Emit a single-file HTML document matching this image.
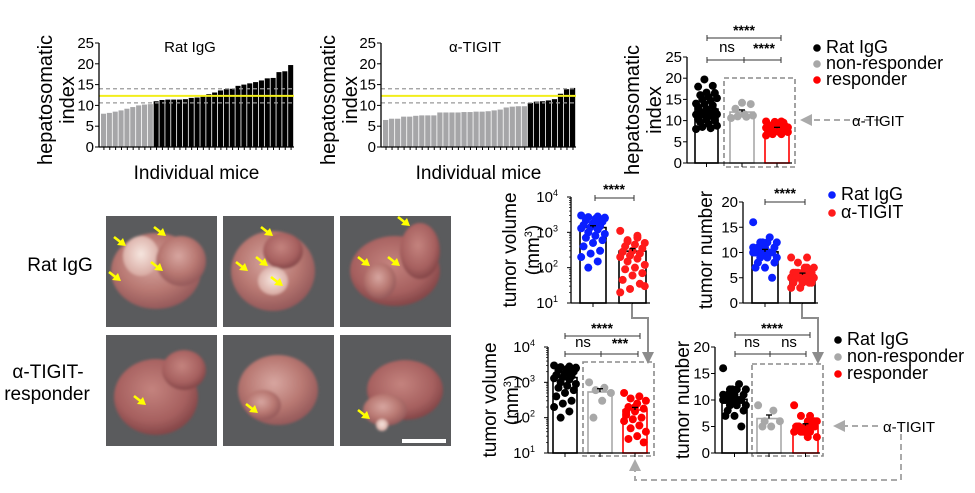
<!DOCTYPE html>
<html><head><meta charset="utf-8"><style>
html,body{margin:0;padding:0;background:#fff}
svg{display:block;font-family:"Liberation Sans",Arial,sans-serif}
</style></head><body>
<svg id="fig" width="975" height="493" viewBox="0 0 975 493" xmlns="http://www.w3.org/2000/svg">
<defs>
<radialGradient id="liver" cx="45%" cy="40%" r="60%"><stop offset="0" stop-color="#d7a6a0"/><stop offset="0.6" stop-color="#b87872"/><stop offset="1" stop-color="#95595a"/></radialGradient>
<radialGradient id="liver2" cx="45%" cy="40%" r="60%"><stop offset="0" stop-color="#c4837e"/><stop offset="0.7" stop-color="#a6605f"/><stop offset="1" stop-color="#844648"/></radialGradient>
<radialGradient id="tumor" cx="50%" cy="45%" r="55%"><stop offset="0" stop-color="#f6e6df"/><stop offset="1" stop-color="#d8aaa2"/></radialGradient>
<filter id="soft"><feGaussianBlur stdDeviation="1.2"/></filter>
<marker id="ah" markerWidth="6" markerHeight="6" refX="3" refY="3" orient="auto"><path d="M0,0 L6,3 L0,6 z" fill="#8c8c8c"/></marker>
<marker id="ah2" markerWidth="6" markerHeight="6" refX="3" refY="3" orient="auto"><path d="M0,0 L6,3 L0,6 z" fill="#aaaaaa"/></marker>
</defs>
<g id="photos"></g>
<g id="charts"></g>
</svg>
<script>
// ---------- DATA ----------
const ratIgGHI = [8.0,8.2,8.5,8.8,9.2,9.6,10.0,10.2,10.3,11.0,11.3,11.4,11.4,11.4,11.5,11.8,11.9,12.2,12.7,13.1,13.6,13.9,14.0,14.7,15.0,15.3,15.6,16.0,16.5,16.6,18.0,18.2,19.7];
const ratIgGResponder = [1,1,1,1,1,1,1,1,1,0,0,0,0,0,0,0,0,0,0,0,0,0,0,0,0,0,0,0,0,0,0,0,0];
const tigitHI = [6.5,6.8,6.8,7.3,7.3,7.5,7.6,7.6,7.6,8.3,8.3,8.3,8.3,8.4,8.4,8.5,8.5,8.6,8.8,9.0,9.5,9.7,9.8,9.8,10.6,10.9,11.0,11.2,11.5,12.8,13.9,14.2];
const tigitResponder = [1,1,1,1,1,1,1,1,1,1,1,1,1,1,1,1,1,1,1,1,1,1,1,1,0,0,0,0,0,0,0,0];
const hiMean = 12.3, hiUpper = 14.0, hiLower = 10.6;
const hiTicks = [0,5,10,15,20,25];
const hiNonResp = [10.6,10.9,11.0,11.2,11.5,12.8,13.9,14.2];
const hiResp = [6.5,6.8,6.8,7.3,7.3,7.5,7.6,7.6,7.6,8.3,8.3,8.3,8.3,8.4,8.4,8.5,8.5,8.6,8.8,9.0,9.5,9.7,9.8,9.8];
const volRat = [3000,2800,2700,2500,2400,2200,2000,1800,1600,1500,1400,1300,1200,1000,900,800,700,600,500,400,300,250,200,150,100,2600,1900];
const volTigit = [1100,700,600,500,450,400,350,300,280,250,220,200,180,150,120,100,90,70,60,45,35,25,20,800,550,30];
const volNonResp = [1000,700,600,500,300,100];
const volResp = [500,400,350,300,250,200,180,150,120,100,90,80,60,50,40,30,25,20,200,150];
const numRat = [16,13,12,12,12,11,11,11,10,10,10,10,10,9,9,9,8,8,7,7,5,12,11];
const numTigit = [9,9,8,7,7,6,6,6,6,6,5,5,5,5,5,5,5,4,4,4,4,3,3,7,6];
const numNonResp = [9,8,6,6,5,5];
const numResp = [9,7,7,6,6,5,5,5,5,5,4,4,4,4,3,3,5,6];
const numTicks = [0,5,10,15,20];
const volTickExp = [1,2,3,4];

// ---------- HELPERS ----------
const NS='http://www.w3.org/2000/svg';
const root=document.getElementById('charts');
function mk(tag,attrs,parent,txt){const e=document.createElementNS(NS,tag);for(const k in attrs)e.setAttribute(k,attrs[k]);if(txt!==undefined)e.textContent=txt;(parent||root).appendChild(e);return e;}
function lin(v,min,max,yb,yt){return yb-(v-min)/(max-min)*(yb-yt);}
function mean(a){return a.reduce((s,v)=>s+v,0)/a.length;}
function sem(a){const m=mean(a);return Math.sqrt(a.reduce((s,v)=>s+(v-m)*(v-m),0)/(a.length-1))/Math.sqrt(a.length);}
function txt(x,y,s,size,anchor,g,name,extra){const t=mk('text',Object.assign({x:x,y:y,'font-size':size,'text-anchor':anchor||'middle',fill:'#000'},extra||{}),g,s);return t;}
function vlabel(x,y,s,size,g,name){const t=mk('text',{x:0,y:0,'font-size':size,'text-anchor':'middle',transform:'translate('+x+','+y+') rotate(-90)'},g,s);return t;}

// ---------- WATERFALL CHARTS ----------
function waterfall(vals,resp,ax,x1,yb,yt,title,tx,name){
  const g=mk('g',{});
  const y=v=>lin(v,0,25,yb,yt);
  const bw=(x1-ax-2)/vals.length;
  vals.forEach((v,i)=>{const r=mk('rect',{x:ax+2+i*bw,y:y(v),width:bw-0.8,height:yb-y(v),fill:resp[i]?'#a6a6a8':'#000'},g);
    
    mk('line',{x1:ax+2+i*bw+bw/2,x2:ax+2+i*bw+bw/2,y1:yb,y2:yb+3,stroke:'#000','stroke-width':1},g);});
  mk('line',{x1:ax,x2:x1,y1:y(hiUpper),y2:y(hiUpper),stroke:'#999','stroke-width':1.3,'stroke-dasharray':'4,3'},g);
  mk('line',{x1:ax,x2:x1,y1:y(hiLower),y2:y(hiLower),stroke:'#999','stroke-width':1.3,'stroke-dasharray':'4,3'},g);
  const ml=mk('line',{x1:ax,x2:x1,y1:y(hiMean),y2:y(hiMean),stroke:'#f2ee1c','stroke-width':2},g);
  
  mk('line',{x1:ax,x2:ax,y1:yt,y2:yb,stroke:'#000','stroke-width':1.3},g);
  mk('line',{x1:ax,x2:x1,y1:yb,y2:yb,stroke:'#000','stroke-width':1.3},g);
  hiTicks.forEach(t=>{mk('line',{x1:ax-4,x2:ax,y1:y(t),y2:y(t),stroke:'#000'},g);txt(ax-5,y(t)+5,String(t),15,'end',g,'y-tick-label');});
  txt(tx,52,title,15,'middle',g,'chart-title');
  txt((ax+x1)/2,179,'Individual mice',19,'middle',g,'x-axis-title');
}
waterfall(ratIgGHI,ratIgGResponder,99,294,147,43,'Rat IgG',190,'waterfall-rat-igg');
waterfall(tigitHI,tigitResponder,381,576,147,43,'α-TIGIT',475,'waterfall-tigit');
{const g=mk('g',{});vlabel(52,100,'hepatosomatic',20,g,'y-axis-title');vlabel(74,100,'index',20,g,'y-axis-title');
 vlabel(335,100,'hepatosomatic',20,g,'y-axis-title');vlabel(357,100,'index',20,g,'y-axis-title');}

// ---------- SCATTER BAR CHARTS ----------
function scatterBar(g,groups,ax,yb,yt,yf,x1){
  groups.forEach((gr,gi)=>{
    const m=mean(gr.vals),s=sem(gr.vals);
    const cx=(gr.x0+gr.x1)/2;
    const b=mk('rect',{x:gr.x0,y:yf(m),width:gr.x1-gr.x0,height:yb-yf(m),fill:'none',stroke:gr.bar,'stroke-width':1.6},g);
    
    gr.vals.forEach((v,i)=>{const off=(((i*7)%11)-5)*((gr.x1-gr.x0)/11);
      const c=mk('circle',{cx:cx+off,cy:yf(v),r:4,fill:gr.dot},g);
      });
    mk('line',{x1:cx,x2:cx,y1:yf(m),y2:yf(m+s),stroke:'#000','stroke-width':1.3},g);
    mk('line',{x1:cx-3,x2:cx+3,y1:yf(m+s),y2:yf(m+s),stroke:'#000','stroke-width':1.3},g);
    mk('line',{x1:cx,x2:cx,y1:yb,y2:yb+4,stroke:'#000'},g);
  });
  mk('line',{x1:ax,x2:ax,y1:yt,y2:yb,stroke:'#000','stroke-width':1.3},g);
  mk('line',{x1:ax,x2:x1,y1:yb,y2:yb,stroke:'#000','stroke-width':1.3},g);
}
function linTicks(g,ax,ticks,yf){ticks.forEach(t=>{mk('line',{x1:ax-4,x2:ax,y1:yf(t),y2:yf(t),stroke:'#000'},g);txt(ax-5,yf(t)+5,String(t),15,'end',g,'y-tick-label');});}
function logTicks(g,ax,yf){volTickExp.forEach(e=>{const y=yf(Math.pow(10,e));mk('line',{x1:ax-4,x2:ax,y1:y,y2:y,stroke:'#000'},g);
  const t=txt(ax-13,y+5,'10',15,'end',g,'y-tick-label');mk('tspan',{'font-size':9,dy:-6},t,String(e));
  for(let k=2;k<10&&e<4;k++){const yy=yf(k*Math.pow(10,e));mk('line',{x1:ax-2,x2:ax,y1:yy,y2:yy,stroke:'#000','stroke-width':0.7},g);}});}
function bracket(g,x0,x1,y,label,ly,mid){mk('line',{x1:x0,x2:x1,y1:y,y2:y,stroke:'#333','stroke-width':1},g);
  mk('line',{x1:x0,x2:x0,y1:y-3,y2:y+3,stroke:'#333'},g);mk('line',{x1:x1,x2:x1,y1:y-3,y2:y+3,stroke:'#333'},g);
  if(mid)mk('line',{x1:mid,x2:mid,y1:y-3,y2:y+3,stroke:'#333'},g);}
function sig(g,x,y,s,name){txt(x,y,s,s==='ns'?15:14,'middle',g,name||'significance-label',{'font-weight':s==='ns'?'normal':'bold'});}
function box(g,x0,y0,x1,y1){const r=mk('rect',{x:x0,y:y0,width:x1-x0,height:y1-y0,fill:'none',stroke:'#8c8c8c','stroke-width':1.6,'stroke-dasharray':'5,3'},g);}
function legend(g,x,ys,labels,colors,size){labels.forEach((l,i)=>{const c=mk('circle',{cx:x,cy:ys[i]-5,r:3.8,fill:colors[i]},g);txt(x+9,ys[i],l,size,'start',g,'legend-entry');});}

// Top-right HI chart
{const g=mk('g',{});
 const yb=163,yt=57,yf=v=>lin(v,0,25,yb,yt);
 box(g,724,78,795,167);
 scatterBar(g,[{name:'rat-igg',vals:ratIgGHI,x0:695,x1:718,bar:'#000',dot:'#000'},{name:'non-responder',vals:hiNonResp,x0:730,x1:754,bar:'#a8a8a8',dot:'#a8a8a8'},{name:'responder',vals:hiResp,x0:765,x1:789,bar:'#ff0000',dot:'#ff0000'}],687,yb,yt,yf,792);
 linTicks(g,687,hiTicks,yf);
 bracket(g,707,781,38);bracket(g,707,781,60,null,null,744);
 sig(g,744,35,'****');sig(g,727,52,'ns');sig(g,764,53,'****');
 vlabel(639,110,'hepatosomatic',20,g,'y-axis-title');vlabel(661,110,'index',20,g,'y-axis-title');
 legend(g,817,[53,69,85],['Rat IgG','non-responder','responder'],['#000','#a8a8a8','#ff0000'],18);
 mk('line',{x1:880,x2:806,y1:120,y2:120,stroke:'#aaa','stroke-width':2,'stroke-dasharray':'6,4','marker-end':'url(#ah2)'},g);
 txt(852,126,'α-TIGIT',15,'start',g,'tigit-group-label');}

// Top volume
{const g=mk('g',{});
 const yb=303,yt=197,yf=v=>lin(Math.log10(v),1,4,yb,yt);
 scatterBar(g,[{name:'rat-igg',vals:volRat,x0:580,x1:606,bar:'#000',dot:'#0a1fff'},{name:'tigit',vals:volTigit,x0:619,x1:646,bar:'#000',dot:'#ff1a1a'}],571,yb,yt,yf,650);
 logTicks(g,571,yf);bracket(g,595,634,198);sig(g,614,194,'****');
 vlabel(516,250,'tumor volume',19,g,'y-axis-title');
 const t=vlabel(539,250,'(mm',19,g,'y-axis-unit');mk('tspan',{'font-size':11,dy:-7},t,'3');mk('tspan',{'font-size':19,dy:7},t,')');}
// Top number
{const g=mk('g',{});
 const yb=303,yt=202,yf=v=>lin(v,0,20,yb,yt);
 scatterBar(g,[{name:'rat-igg',vals:numRat,x0:752,x1:778,bar:'#000',dot:'#0a1fff'},{name:'tigit',vals:numTigit,x0:790,x1:815,bar:'#000',dot:'#ff1a1a'}],743,yb,yt,yf,818);
 linTicks(g,743,numTicks,yf);bracket(g,765,805,202);sig(g,785,198,'****');
 vlabel(712,250,'tumor number',19,g,'y-axis-title');
 legend(g,832,[200,218],['Rat IgG','α-TIGIT'],['#0a1fff','#ff1a1a'],18);}
// Bottom volume
{const g=mk('g',{});
 const yb=453,yt=347,yf=v=>lin(Math.log10(v),1,4,yb,yt);
 box(g,583,362,654,456);
 scatterBar(g,[{name:'rat-igg',vals:volRat,x0:553,x1:577,bar:'#000',dot:'#000'},{name:'non-responder',vals:volNonResp,x0:588,x1:612,bar:'#a8a8a8',dot:'#a8a8a8'},{name:'responder',vals:volResp,x0:623,x1:647,bar:'#ff0000',dot:'#ff0000'}],548,yb,yt,yf,650);
 logTicks(g,548,yf);bracket(g,565,640,336);bracket(g,565,638,354,null,null,601);
 sig(g,602,333,'****');sig(g,583,347,'ns');sig(g,620,348,'***');
 vlabel(496,400,'tumor volume',19,g,'y-axis-title');
 const t=vlabel(518,400,'(mm',19,g,'y-axis-unit');mk('tspan',{'font-size':11,dy:-7},t,'3');mk('tspan',{'font-size':19,dy:7},t,')');}
// Bottom number
{const g=mk('g',{});
 const yb=453,yt=347,yf=v=>lin(v,0,20,yb,yt);
 box(g,752,364,823,456);
 scatterBar(g,[{name:'rat-igg',vals:numRat,x0:722,x1:747,bar:'#000',dot:'#000'},{name:'non-responder',vals:numNonResp,x0:757,x1:781,bar:'#a8a8a8',dot:'#a8a8a8'},{name:'responder',vals:numResp,x0:793,x1:818,bar:'#ff0000',dot:'#ff0000'}],715,yb,yt,yf,820);
 linTicks(g,715,numTicks,yf);bracket(g,735,810,335);bracket(g,735,806,354,null,null,770);
 sig(g,772,333,'****');sig(g,752,347,'ns');sig(g,789,347,'ns');
 vlabel(689,400,'tumor number',19,g,'y-axis-title');
 legend(g,838,[345,362,379],['Rat IgG','non-responder','responder'],['#000','#a8a8a8','#ff0000'],18);
 mk('line',{x1:878,x2:839,y1:426,y2:426,stroke:'#aaa','stroke-width':2,'stroke-dasharray':'6,4','marker-end':'url(#ah2)'},g);
 txt(883,432,'α-TIGIT',15,'start',g,'tigit-group-label');}
// connector arrows
{const g=mk('g',{});
 mk('polyline',{points:'632,304 632,318 648,318 648,358',fill:'none',stroke:'#8c8c8c','stroke-width':2,'marker-end':'url(#ah)'},g);
 mk('polyline',{points:'802,304 802,318 818,318 818,358',fill:'none',stroke:'#8c8c8c','stroke-width':2,'marker-end':'url(#ah)'},g);
 mk('polyline',{points:'901,434 901,480 635,480 635,465',fill:'none',stroke:'#aaa','stroke-width':2,'stroke-dasharray':'6,4','marker-end':'url(#ah2)'},g);}

// ---------- PHOTOS ----------
const P=document.getElementById('photos');
const cols=[106,223,340],rows=[216,335];
function arrow(x,y,g){mk('line',{x1:x-12,y1:y-9,x2:x-3,y2:y-2,stroke:'#ffff00','stroke-width':2.6},g);mk('polygon',{points:(x)+','+(y)+' '+(x-9)+','+(y-1)+' '+(x-3)+','+(y-8),fill:'#ffff00'},g);}
const shapes=[
 [[50,55,45,38,'url(#liver)'],[35,40,18,20,'url(#tumor)'],[75,45,25,25,'url(#liver)']],
 [[50,55,42,40,'url(#liver)'],[60,35,20,18,'url(#liver2)'],[50,65,15,14,'url(#tumor)']],
 [[55,55,45,35,'url(#liver2)'],[80,35,20,28,'url(#liver2)'],[40,65,16,18,'url(#liver)']],
 [[50,62,42,38,'url(#liver2)'],[78,35,22,20,'url(#liver2)']],
 [[55,55,40,35,'url(#liver)'],[40,70,18,15,'url(#liver)']],
 [[65,55,38,30,'url(#liver2)'],[45,75,22,16,'url(#liver)'],[42,90,6,6,'url(#tumor)']]];
const arrows=[[[20,30],[60,20],[15,65],[57,55]],[[50,20],[25,55],[45,50],[60,70]],[[70,10],[30,50],[60,50]],[[40,70]],[[35,78]],[[30,84]]];
rows.forEach((ry,ri)=>cols.forEach((cx,ci)=>{const k=ri*3+ci;
  const g=mk('g',{},P);
  mk('rect',{x:cx,y:ry,width:111,height:111,fill:'#5a5b5d'},g);
  const inner=mk('g',{filter:'url(#soft)'},g);
  shapes[k].forEach(s=>mk('ellipse',{cx:cx+s[0],cy:ry+s[1],rx:s[2],ry:s[3],fill:s[4]},inner));
  arrows[k].forEach(a=>arrow(cx+a[0],ry+a[1],g));
}));
{const sb=mk('rect',{x:402,y:439,width:44,height:4,fill:'#fff'},P);}
txt(60,271,'Rat IgG',19,'middle',P,'row-label');
txt(48,378,'α-TIGIT-',19,'middle',P,'row-label');
txt(47,400,'responder',19,'middle',P,'row-label');
</script>
</body></html>
